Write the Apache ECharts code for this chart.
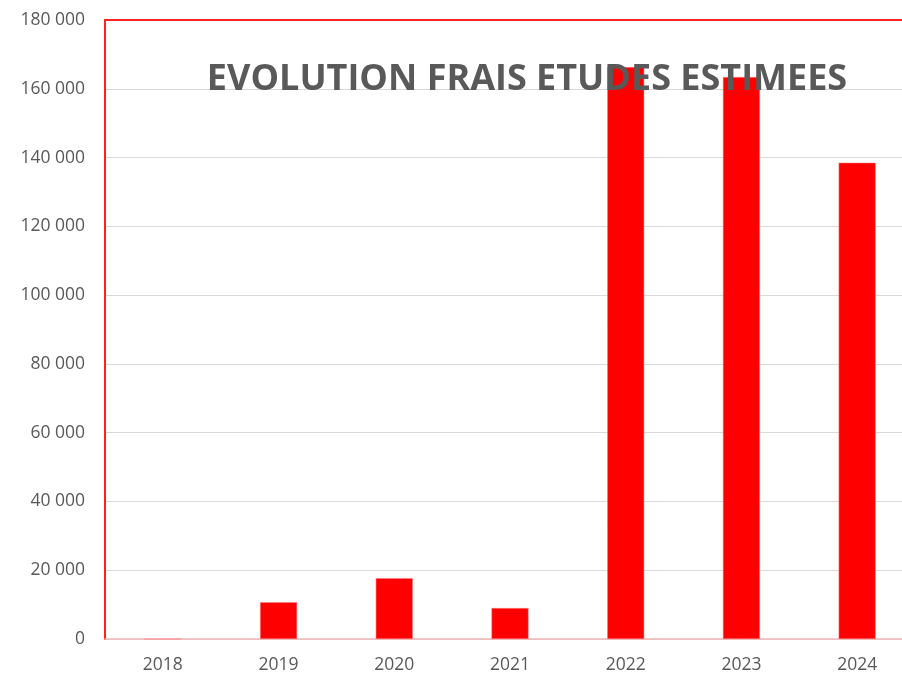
<!DOCTYPE html>
<html><head><meta charset="utf-8">
<script src="https://cdn.jsdelivr.net/npm/echarts@6/dist/echarts.min.js"></script>
<style>html,body{margin:0;padding:0;background:#fff;overflow:hidden;width:902px;height:676px}#c{width:920px;height:676px}</style>
</head><body><div id="c"></div>
<script>
const categories = ['2018','2019','2020','2021','2022','2023','2024'];
const values = [0, 10700, 17700, 9000, 166300, 163400, 138500];
const titleText = 'EVOLUTION FRAIS ETUDES ESTIMEES';

const chart = echarts.init(document.getElementById('c'), null, {renderer:'canvas'});
const fmt = v => String(v).replace(/\B(?=(\d{3})+(?!\d))/g, ' ');
chart.setOption({
  animation: false,
  title: {
    text: titleText, left: 522, top: 57, textAlign: 'center',
    textStyle: {fontFamily: 'Open Sans', fontWeight: 'bold', fontSize: 36, color: '#595959'},
    z: 10
  },
  grid: {left: 105, right: 5, top: 20, bottom: 37, containLabel: false},
  xAxis: [{
    type: 'category', data: categories,
    axisLine: {show: true, lineStyle: {color: '#F2B8B8', width: 1.5}},
    axisTick: {show: false},
    axisLabel: {color: '#595959', fontSize: 17.5, fontFamily: 'Open Sans', margin: 17}
  }, {
    type: 'category', data: categories, position: 'top',
    axisLine: {show: true, lineStyle: {color: '#FF2020', width: 2}},
    axisTick: {show: false}, axisLabel: {show: false}
  }],
  yAxis: {
    type: 'value', min: 0, max: 180000, interval: 20000,
    axisLine: {show: true, lineStyle: {color: '#FF2020', width: 2}},
    axisTick: {show: false},
    splitLine: {lineStyle: {color: '#D9D9D9', width: 1}},
    axisLabel: {color: '#595959', fontSize: 17.5, fontFamily: 'Open Sans', margin: 20, formatter: fmt}
  },
  series: [{
    type: 'bar', data: values, barWidth: 37,
    itemStyle: {color: '#FF0000', borderColor: '#FF8080', borderWidth: 0.5},
    z: 2
  }]
});
</script></body></html>
